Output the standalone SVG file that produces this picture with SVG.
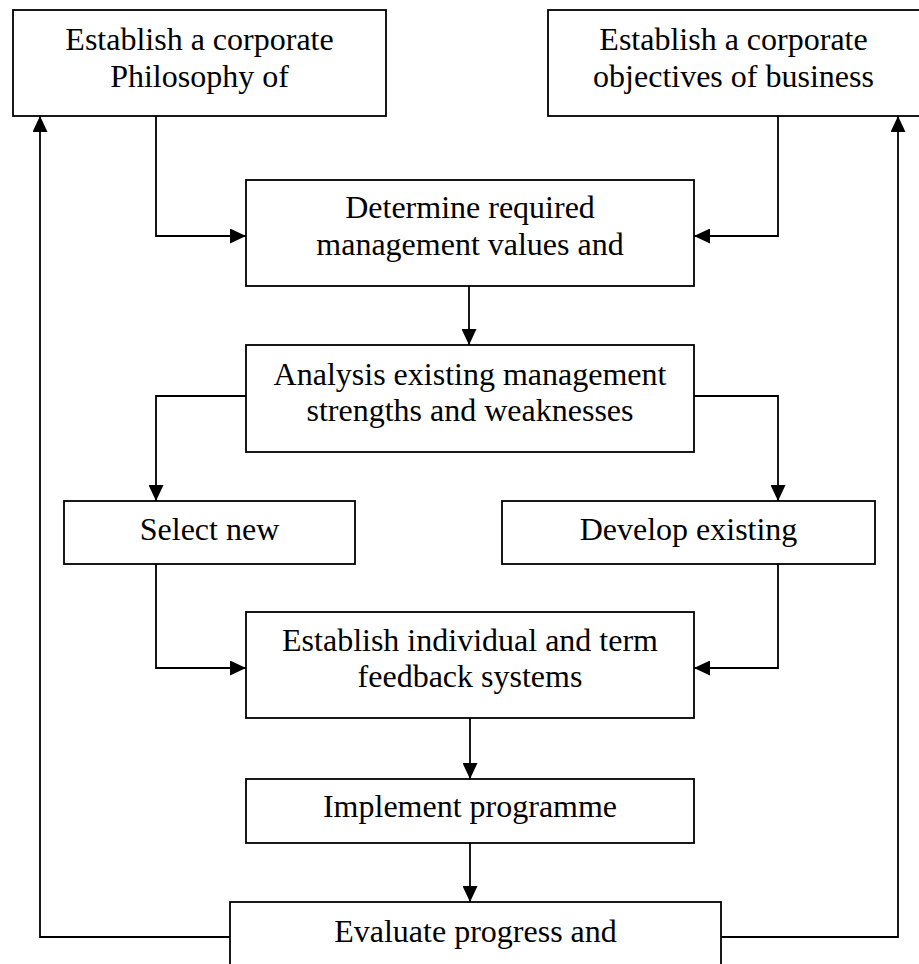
<svg xmlns="http://www.w3.org/2000/svg" width="919" height="964" viewBox="0 0 919 964">
<defs>
<style>
.box{fill:#fff;stroke:#000;stroke-width:1.8}
.lbl{font-family:"Liberation Serif","Times New Roman",serif;font-size:32px;fill:#000;text-anchor:middle}
.conn{fill:none;stroke:#000;stroke-width:1.8}
</style>
<marker id="arr" markerUnits="userSpaceOnUse" markerWidth="16" markerHeight="15" viewBox="0 0 16 15" refX="16" refY="7.5" orient="auto">
<path d="M0,0 L16,7.5 L0,15 Z" fill="#000"/>
</marker>
</defs>
<rect width="919" height="964" fill="#fff"/>
<g id="connectors">
<path class="conn" d="M156,116 V236 H246" marker-end="url(#arr)"/>
<path class="conn" d="M778,116 V236 H694" marker-end="url(#arr)"/>
<path class="conn" d="M469,286 V345" marker-end="url(#arr)"/>
<path class="conn" d="M246,396 H156 V501" marker-end="url(#arr)"/>
<path class="conn" d="M694,396 H778 V501" marker-end="url(#arr)"/>
<path class="conn" d="M156,564 V668 H246" marker-end="url(#arr)"/>
<path class="conn" d="M778,564 V668 H694" marker-end="url(#arr)"/>
<path class="conn" d="M470,718 V779" marker-end="url(#arr)"/>
<path class="conn" d="M470,843 V902" marker-end="url(#arr)"/>
<path class="conn" d="M230,937 H40 V116" marker-end="url(#arr)"/>
<path class="conn" d="M721,937 H898 V116" marker-end="url(#arr)"/>
</g>
<g id="n-philosophy">
<rect class="box" x="13" y="10" width="373" height="106"/>
<text class="lbl" x="199.5" y="50">Establish a corporate</text>
<text class="lbl" x="199.5" y="87">Philosophy of</text>
</g>
<g id="n-objectives">
<rect class="box" x="548" y="10" width="374" height="106"/>
<text class="lbl" x="733.5" y="50">Establish a corporate</text>
<text class="lbl" x="733.5" y="87">objectives of business</text>
</g>
<g id="n-determine">
<rect class="box" x="246" y="180" width="448" height="106"/>
<text class="lbl" x="470" y="218">Determine required</text>
<text class="lbl" x="470" y="255">management values and</text>
</g>
<g id="n-analysis">
<rect class="box" x="246" y="345" width="448" height="107"/>
<text class="lbl" x="470" y="385">Analysis existing management</text>
<text class="lbl" x="470" y="421">strengths and weaknesses</text>
</g>
<g id="n-select">
<rect class="box" x="64" y="501" width="291" height="63"/>
<text class="lbl" x="209.5" y="540">Select new</text>
</g>
<g id="n-develop">
<rect class="box" x="502" y="501" width="373" height="63"/>
<text class="lbl" x="688.5" y="540">Develop existing</text>
</g>
<g id="n-feedback">
<rect class="box" x="246" y="612" width="448" height="106"/>
<text class="lbl" x="470" y="651">Establish individual and term</text>
<text class="lbl" x="470" y="687">feedback systems</text>
</g>
<g id="n-implement">
<rect class="box" x="246" y="779" width="448" height="64"/>
<text class="lbl" x="470" y="817">Implement programme</text>
</g>
<g id="n-evaluate">
<rect class="box" x="230" y="902" width="491" height="80"/>
<text class="lbl" x="475.5" y="942">Evaluate progress and</text>
</g>
</svg>
